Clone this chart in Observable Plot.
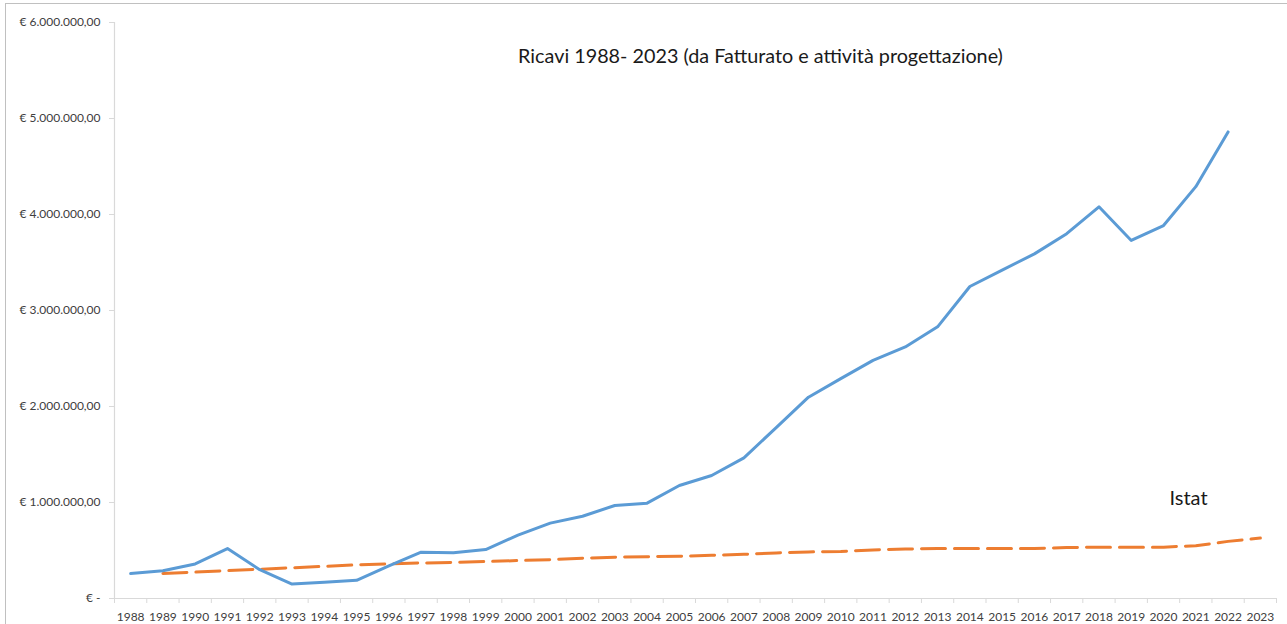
<!DOCTYPE html>
<html><head><meta charset="utf-8">
<script src="https://cdn.jsdelivr.net/npm/d3@7"></script>
<script src="https://cdn.jsdelivr.net/npm/@observablehq/plot@0.6"></script>
<style>
body{margin:0;background:#fff;}
#wrap{position:relative;width:1287px;height:624px;overflow:hidden;}
#border{position:absolute;left:5px;top:3px;right:-2px;bottom:-2px;border-left:1.5px solid #c0c0c0;border-top:1.5px solid #c0c0c0;pointer-events:none;}
</style></head><body><div id="wrap"><div id="border"></div></div>
<script>
const years = [1988,1989,1990,1991,1992,1993,1994,1995,1996,1997,1998,1999,2000,2001,2002,2003,2004,2005,
  2006,2007,2008,2009,2010,2011,2012,2013,2014,2015,2016,2017,2018,2019,2020,2021,2022,2023];
// Ricavi 1988–2022 (€)
const ricavi = [260000,290000,360000,520000,300000,150000,170000,190000,340000,482000,476000,510000,
  660000,785000,857000,969000,993000,1177000,1281000,1465000,1780000,2097000,2290000,2480000,2620000,
  2830000,3250000,3420000,3590000,3800000,4080000,3730000,3885000,4290000,4860000];
// Istat 1989–2023 (€)
const istat = [260000,275000,290000,305000,320000,335000,350000,360000,370000,375000,385000,395000,
  405000,420000,430000,435000,440000,450000,460000,475000,485000,490000,505000,515000,520000,520000,
  520000,520000,530000,535000,535000,535000,550000,595000,630000];
const yTicks = [0,1000000,2000000,3000000,4000000,5000000,6000000];
const titleText = "Ricavi 1988- 2023 (da Fatturato e attività progettazione)";
const seriesLabel = "Istat";

const ricaviRows = ricavi.map((v,i)=>({year: years[i], value: v}));
const istatRows = istat.map((v,i)=>({year: years[i+1], value: v}));
const bounds = years.map(y=>y-0.5).concat([years[years.length-1]+0.5]);

const itLocale = d3.formatLocale({decimal:",", thousands:".", grouping:[3], currency:["€",""]});
const f2 = itLocale.format(",.2f");
const fmt = d => d === 0 ? "€ -" : "€ " + f2(d);

const chart = Plot.plot({
  width:1287, height:624,
  marginLeft:114, marginRight:11, marginTop:22, marginBottom:26,
  x:{domain:[bounds[0], bounds[bounds.length-1]]},
  y:{domain:[0,6000000]},
  style:{fontFamily:"Lato, 'Open Sans', sans-serif", fontSize:"12px", color:"#404040", background:"transparent"},
  marks:[
    Plot.ruleY([0],{stroke:"#d9d9d9", strokeWidth:1.2}),
    Plot.ruleX([bounds[0]],{stroke:"#d9d9d9", strokeWidth:1.2}),
    Plot.axisY(yTicks,{tickSize:5, tickPadding:9, tickFormat:fmt, stroke:"#d9d9d9", fill:"#404040", label:null, fontSize:12}),
    Plot.axisX(years,{tickSize:0, tickPadding:14, tickFormat:d=>String(d), fill:"#404040", label:null, fontSize:12}),
    Plot.axisX(bounds,{tickSize:5, tickFormat:()=>"", stroke:"#d9d9d9", label:null}),
    Plot.line(istatRows,{x:"year", y:"value", stroke:"#ED7D31", strokeWidth:3, strokeDasharray:"24,9", strokeLinejoin:"round"}),
    Plot.line(ricaviRows,{x:"year", y:"value", stroke:"#5B9BD5", strokeWidth:3, strokeLinejoin:"round", strokeLinecap:"round"}),
    Plot.text([titleText],{frameAnchor:"top", dx:65, dy:26, fontSize:19.8, fill:"#1a1a1a"}),
    Plot.text([seriesLabel],{frameAnchor:"top-right", textAnchor:"middle", dx:-88, dy:468, fontSize:20, fill:"#1a1a1a"})
  ]
});
document.getElementById("wrap").appendChild(chart);
chart.style.position="absolute"; chart.style.left="0"; chart.style.top="0";
</script>
</body></html>
